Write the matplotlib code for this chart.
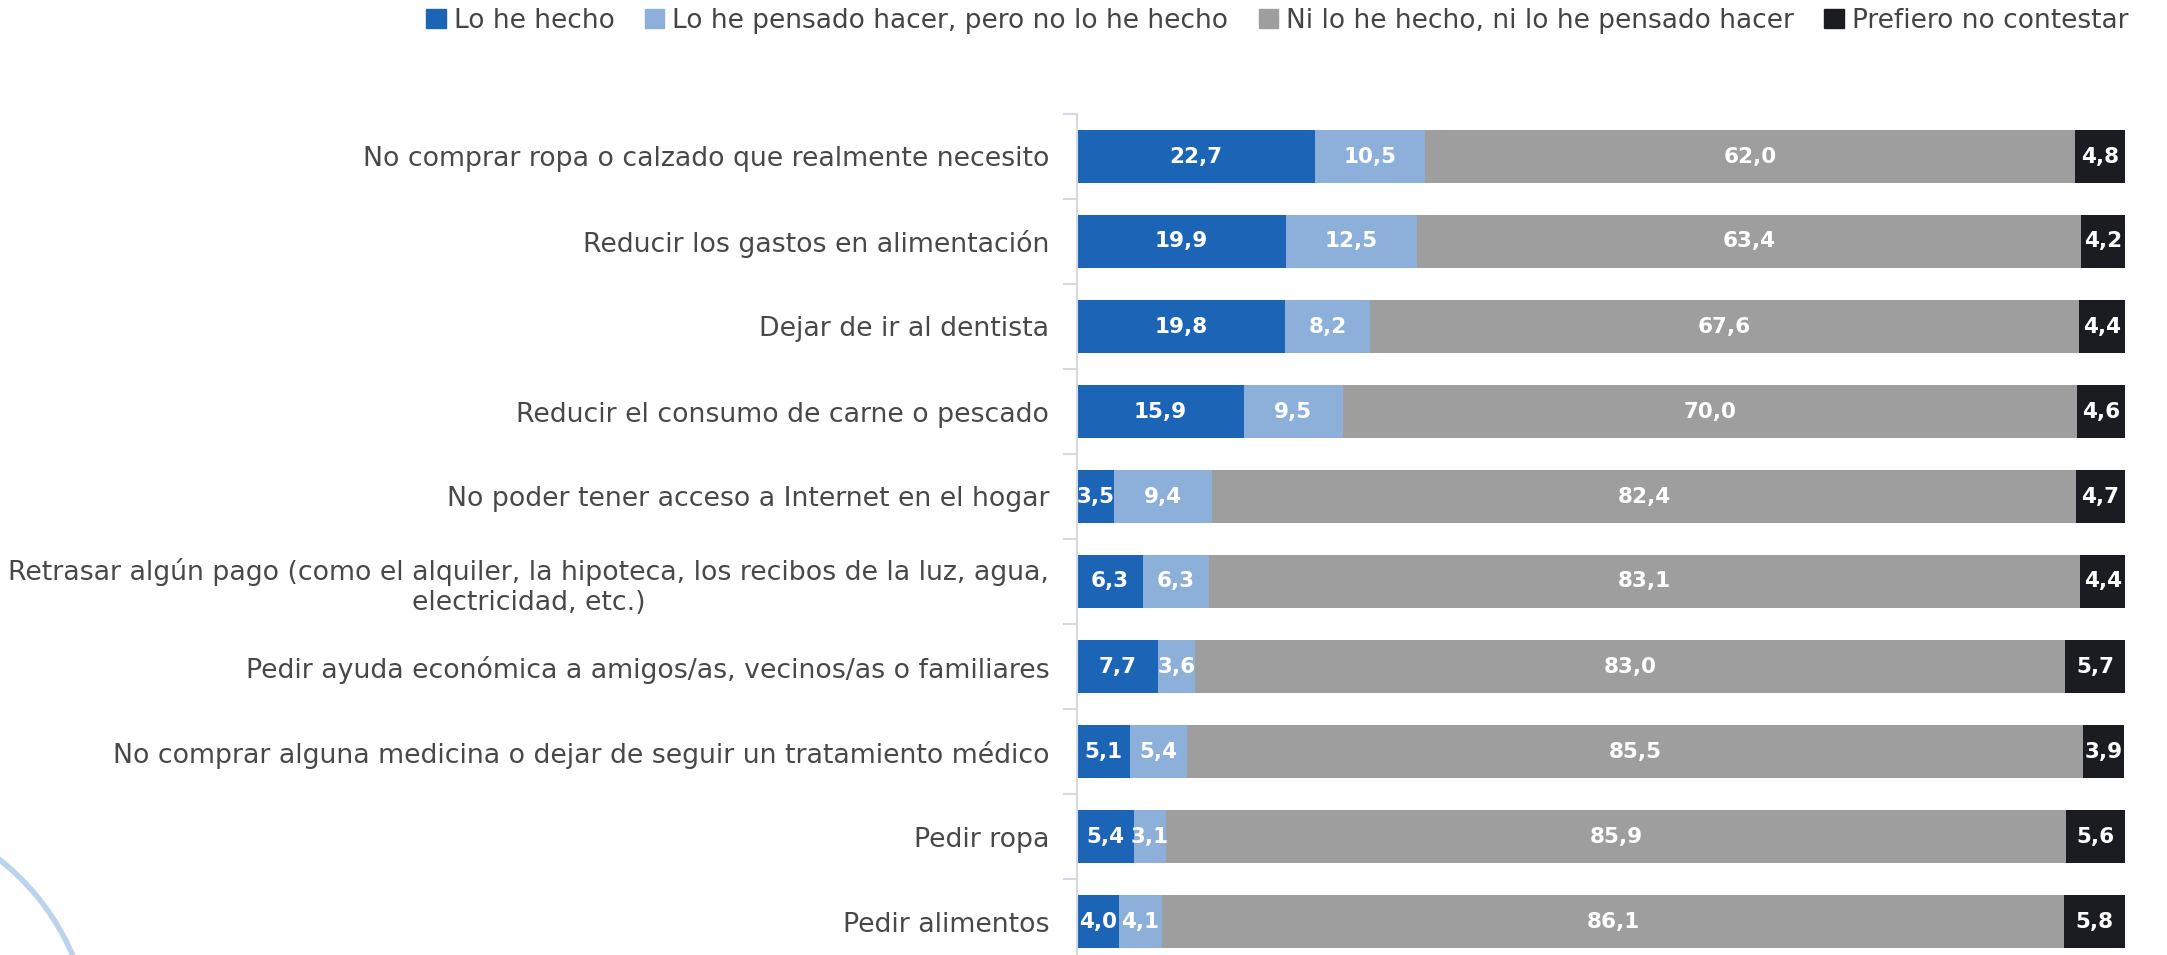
import numpy as np
import matplotlib.pyplot as plt
from matplotlib.patches import Patch, Circle

# Data
categories = [
    "No comprar ropa o calzado que realmente necesito",
    "Reducir los gastos en alimentación",
    "Dejar de ir al dentista",
    "Reducir el consumo de carne o pescado",
    "No poder tener acceso a Internet en el hogar",
    "Retrasar algún pago (como el alquiler, la hipoteca, los recibos de la luz, agua,\nelectricidad, etc.)",
    "Pedir ayuda económica a amigos/as, vecinos/as o familiares",
    "No comprar alguna medicina o dejar de seguir un tratamiento médico",
    "Pedir ropa",
    "Pedir alimentos",
]
series_names = [
    "Lo he hecho",
    "Lo he pensado hacer, pero no lo he hecho",
    "Ni lo he hecho, ni lo he pensado hacer",
    "Prefiero no contestar",
]
hecho = [22.7, 19.9, 19.8, 15.9, 3.5, 6.3, 7.7, 5.1, 5.4, 4.0]
pensado = [10.5, 12.5, 8.2, 9.5, 9.4, 6.3, 3.6, 5.4, 3.1, 4.1]
ni = [62.0, 63.4, 67.6, 70.0, 82.4, 83.1, 83.0, 85.5, 85.9, 86.1]
no_contesta = [4.8, 4.2, 4.4, 4.6, 4.7, 4.4, 5.7, 3.9, 5.6, 5.8]

colors = ["#1b64b6", "#8cb0da", "#9d9e9d", "#1b1b22"]
series = [hecho, pensado, ni, no_contesta]

plt.rcParams['font.family'] = ['DejaVu Sans']

W, H = 2167, 955
fig = plt.figure(figsize=(W / 100, H / 100), dpi=100)

# decorative arc in the lower left corner
bg = fig.add_axes([0, 0, 1, 1])
bg.set_xlim(0, W)
bg.set_ylim(H, 0)
bg.axis('off')
bg.add_patch(Circle((-150, 1050), 242, fill=False, ec="#bcd3ec", lw=4))

ax = fig.add_axes([1077 / W, 1 - 964 / H, (2125 - 1077) / W, (964 - 114) / H])
ax.patch.set_alpha(0)

y = np.arange(len(categories))
left = np.zeros(len(categories))
for vals, col, name in zip(series, colors, series_names):
    vals = np.array(vals)
    bars = ax.barh(y, vals, left=left, height=0.62, color=col, label=name,
                   edgecolor='none')
    for b, v in zip(bars, vals):
        ax.text(b.get_x() + b.get_width() / 2, b.get_y() + b.get_height() / 2,
                f"{v:.1f}".replace('.', ','), ha='center', va='center',
                color='white', fontsize=15.5, fontweight='bold')
    left += vals

ax.set_xlim(0, 100)
ax.set_ylim(len(categories) - 0.5, -0.5)
ax.set_yticks(y)
ax.set_yticklabels(categories, fontsize=19.3, color='#484848',
                   multialignment='center')
ax.set_yticks(np.arange(len(categories) + 1) - 0.5, minor=True)
ax.tick_params(axis='y', which='major', length=0, pad=20)
ax.tick_params(axis='y', which='minor', length=10, color='#d5d9e4', width=1.5)
ax.set_xticks([])
for s in ['top', 'right', 'bottom']:
    ax.spines[s].set_visible(False)
ax.spines['left'].set_color('#d5d9e4')
ax.spines['left'].set_linewidth(1.5)

handles = [Patch(color=c) for c in colors]
fig.legend(handles, series_names, loc='upper right', ncol=4,
           bbox_to_anchor=(2152 / W, 1.017), frameon=False, fontsize=19,
           handlelength=0.74, handleheight=0.74, handletextpad=0.3,
           columnspacing=1.15, labelcolor='#444444')

fig.savefig('out.png', dpi=100)
